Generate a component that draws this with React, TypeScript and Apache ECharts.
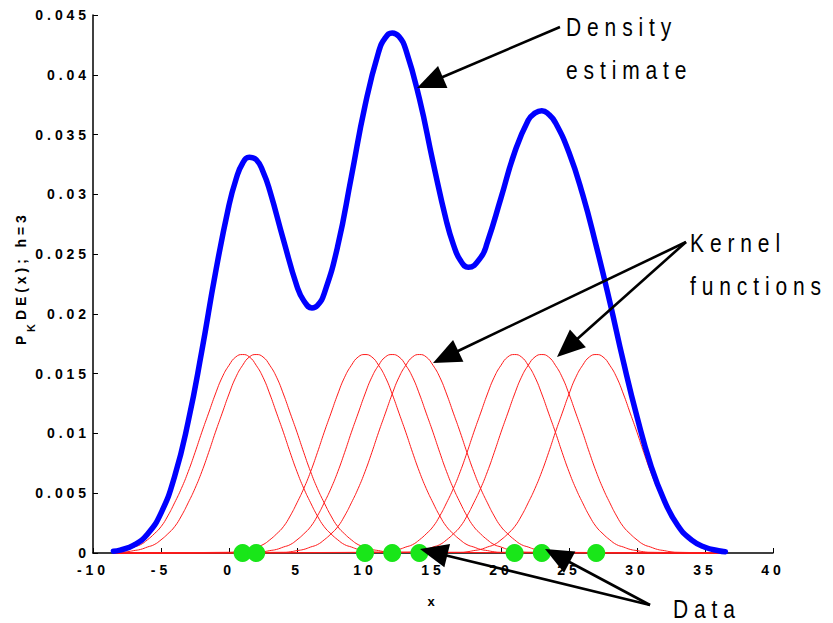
import React, { useEffect, useRef } from "react";
import * as echarts from "echarts";

// ---- data ----
const dataPoints = [1, 2, 10, 12, 14, 21, 23, 27];

// one kernel's height at distance 0..10 from its data point (all kernels share it)
const kernelOffsets = [0, 0.5, 1, 1.5, 2, 2.5, 3, 3.5, 4, 4.5, 5, 5.5, 6, 6.5, 7, 7.5, 8, 8.5, 9, 9.5, 10];
const kernelProfile = [
  0.0166, 0.0164, 0.0157, 0.0147, 0.0133, 0.0117, 0.0101, 0.0084, 0.0068, 0.0054, 0.0042, 0.0031,
  0.0022, 0.0016, 0.0011, 0.0007, 0.0005, 0.0003, 0.0002, 0.0001, 0.00006,
];

const densityX = [
  -8.5, -8, -7, -6, -5, -4, -3, -2, -1, 0, 0.5, 1, 1.5, 2, 2.5, 3, 4, 5, 5.5, 6.1, 6.5, 7, 8, 9, 10,
  11, 11.5, 12, 12.5, 13, 14, 15, 16, 16.5, 17, 17.6, 18.5, 19, 20, 21, 22, 22.5, 23, 23.5, 24, 25,
  26, 27, 28, 29, 30, 31, 32, 33, 34, 35, 36, 36.5,
];
const densityY = [
  0.00015, 0.00025, 0.00066, 0.00157, 0.00334, 0.0064, 0.011, 0.0169, 0.0234, 0.0291, 0.0312, 0.0326,
  0.0331, 0.0329, 0.0319, 0.0303, 0.0262, 0.0223, 0.0211, 0.0205, 0.0207, 0.0217, 0.0257, 0.0315,
  0.0374, 0.0419, 0.0431, 0.0435, 0.0432, 0.0421, 0.038, 0.0327, 0.0277, 0.0258, 0.0245, 0.0239,
  0.0247, 0.026, 0.0297, 0.0335, 0.0362, 0.0368, 0.037, 0.0367, 0.036, 0.0335, 0.03, 0.0257,
  0.021, 0.016, 0.0114, 0.0074, 0.0044, 0.0023, 0.0011, 0.00048, 0.00019, 0.00011,
];

const xRange = [-8.5, 36.5];
const xAxisMin = -10;
const xAxisMax = 40;
const xAxisStep = 5;
const yAxisMin = 0;
const yAxisMax = 0.045;
const yAxisStep = 0.005;

const xAxisName = "x";
// y-axis title pieces: main letter, subscript, rest
const yNameParts = { main: "P", sub: "K", rest: "DE(x); h=3" };

const annotationTexts = [
  { text: "Density", x: 566, y: 27 },
  { text: "estimate", x: 566, y: 70 },
  { text: "Kernel", x: 690, y: 243 },
  { text: "functions", x: 690, y: 286 },
  { text: "Data", x: 673, y: 609 },
];

const arrows = [
  { from: [560, 27], to: [417, 88] },
  { from: [686, 242], to: [433, 363] },
  { from: [686, 242], to: [557, 357] },
  { from: [650, 605], to: [420, 549] },
  { from: [650, 605], to: [545, 549] },
];

function kernelData(center: number): [number, number][] {
  const pts: [number, number][] = [];
  const maxOff = kernelOffsets[kernelOffsets.length - 1];
  if (center - maxOff > xRange[0]) pts.push([xRange[0], 0]);
  for (let i = kernelOffsets.length - 1; i >= 1; i--) {
    const x = center - kernelOffsets[i];
    if (x >= xRange[0]) pts.push([x, kernelProfile[i]]);
  }
  for (let i = 0; i < kernelOffsets.length; i++) {
    const x = center + kernelOffsets[i];
    if (x <= xRange[1]) pts.push([x, kernelProfile[i]]);
  }
  if (center + maxOff < xRange[1]) pts.push([xRange[1], 0]);
  return pts;
}

function arrowElements(from: number[], to: number[]) {
  const L = 28;
  const W = 12;
  const dx = to[0] - from[0];
  const dy = to[1] - from[1];
  const len = Math.sqrt(dx * dx + dy * dy);
  const ux = dx / len;
  const uy = dy / len;
  const bx = to[0] - ux * L;
  const by = to[1] - uy * L;
  const px = -uy;
  const py = ux;
  return [
    {
      type: "line",
      z: 100,
      shape: { x1: from[0], y1: from[1], x2: bx + ux * 2, y2: by + uy * 2 },
      style: { stroke: "#000", lineWidth: 2.6 },
    },
    {
      type: "polygon",
      z: 100,
      shape: {
        points: [
          [to[0], to[1]],
          [bx + px * W, by + py * W],
          [bx - px * W, by - py * W],
        ],
      },
      style: { fill: "#000" },
    },
  ];
}

const FONT = '"Liberation Sans", Arial, sans-serif';

function buildOption() {
  const kernelSeries = dataPoints.map((c, i) => ({
    type: "line",
    name: "kernel" + i,
    data: kernelData(c),
    smooth: true,
    showSymbol: false,
    clip: false,
    z: 2,
    lineStyle: { color: "#ff1a1a", width: 1 },
  }));
  const graphics: any[] = [];
  arrows.forEach((a) => graphics.push(...arrowElements(a.from, a.to)));
  annotationTexts.forEach((t) =>
    graphics.push({
      type: "text",
      z: 100,
      x: t.x,
      y: t.y,
      scaleY: 1.2,
      style: {
        text: t.text,
        fontSize: 21,
        fontFamily: FONT,
        fill: "#000",
        align: "left",
        verticalAlign: "middle",
      },
    })
  );
  // rotated y-axis title with subscript
  graphics.push(
    {
      type: "text",
      z: 100,
      x: 21,
      y: 345,
      rotation: Math.PI / 2,
      style: { text: yNameParts.main, fontSize: 14, fontWeight: "bold", fontFamily: FONT, fill: "#000", align: "left", verticalAlign: "middle" },
    },
    {
      type: "text",
      z: 100,
      x: 31,
      y: 332,
      rotation: Math.PI / 2,
      style: { text: yNameParts.sub, fontSize: 11, fontWeight: "bold", fontFamily: FONT, fill: "#000", align: "left", verticalAlign: "middle" },
    },
    {
      type: "text",
      z: 100,
      x: 21,
      y: 320,
      rotation: Math.PI / 2,
      style: { text: yNameParts.rest, fontSize: 14, fontWeight: "bold", fontFamily: FONT, fill: "#000", align: "left", verticalAlign: "middle" },
    }
  );
  return {
    animation: false,
    backgroundColor: "#fff",
    grid: { left: 93, right: 60, top: 15, bottom: 70, containLabel: false, outerBoundsMode: "none" },
    xAxis: {
      type: "value",
      min: xAxisMin,
      max: xAxisMax,
      interval: xAxisStep,
      name: xAxisName,
      nameLocation: "middle",
      nameGap: 42,
      nameTextStyle: { fontFamily: FONT, fontSize: 13, fontWeight: "bold", color: "#000" },
      axisLine: { onZero: false, lineStyle: { color: "#000", width: 1.5 } },
      axisTick: { inside: true, length: 5, lineStyle: { color: "#000", width: 1 } },
      axisLabel: { fontFamily: FONT, fontSize: 14, fontWeight: "bold", color: "#000", margin: 10 },
      splitLine: { show: false },
    },
    yAxis: {
      type: "value",
      min: yAxisMin,
      max: yAxisMax,
      interval: yAxisStep,
      axisLine: { onZero: false, lineStyle: { color: "#000", width: 1.5 } },
      axisTick: { inside: true, length: 5, lineStyle: { color: "#000", width: 1 } },
      axisLabel: { fontFamily: FONT, fontSize: 14, fontWeight: "bold", color: "#000", margin: 3 },
      splitLine: { show: false },
    },
    series: [
      ...kernelSeries,
      {
        type: "line",
        name: "density",
        data: densityX.map((x, i) => [x, densityY[i]]),
        smooth: true,
        showSymbol: false,
        clip: false,
        z: 3,
        lineStyle: { color: "#0000ff", width: 5.5, cap: "round" },
      },
      {
        type: "scatter",
        name: "data",
        data: dataPoints.map((x) => [x, 0]),
        symbol: "circle",
        symbolSize: 18,
        clip: false,
        z: 4,
        itemStyle: { color: "#19e619", opacity: 1 },
      },
    ],
    graphic: graphics,
  };
}

export default function App() {
  const ref = useRef<HTMLDivElement>(null);
  useEffect(() => {
    if (!ref.current) return;
    const chart = echarts.init(ref.current, null, { renderer: "svg" });
    chart.setOption(buildOption() as any);
    return () => chart.dispose();
  }, []);
  return (
    <>
      <style>{`body{margin:0} #kde text{letter-spacing:0.28em}`}</style>
      <div id="kde" ref={ref} style={{ width: 833, height: 623 }} />
    </>
  );
}
